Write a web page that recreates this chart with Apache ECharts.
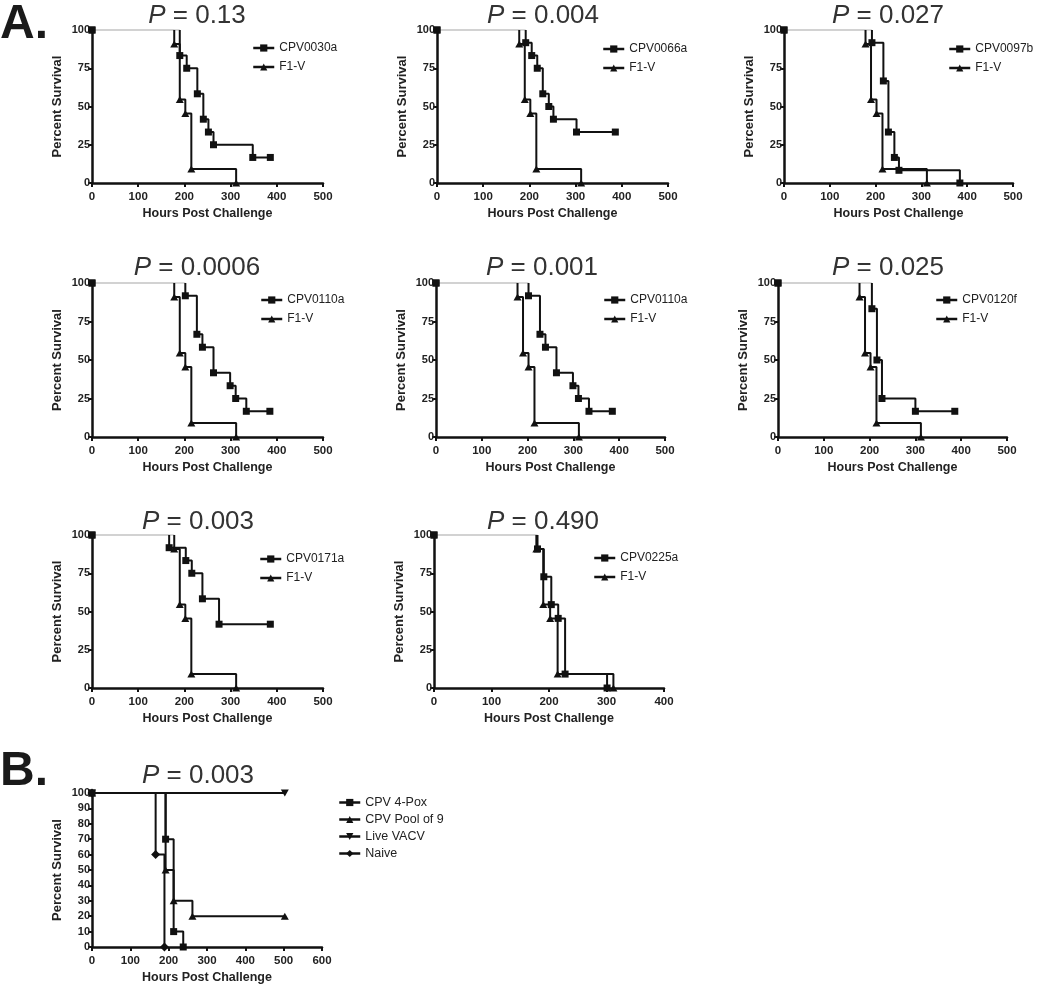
<!DOCTYPE html>
<html>
<head>
<meta charset="utf-8">
<script src="https://cdn.jsdelivr.net/npm/echarts@6/dist/echarts.min.js"></script>
<style>
html,body{margin:0;padding:0;background:#fff;}
#main{width:1050px;height:989px;}
</style>
</head>
<body>
<div id="main"></div>
<script>
// ---- Data: Kaplan-Meier curves (hours post challenge, percent survival) ----
const f1vHours = [0, 178, 190, 202, 215, 312];
const f1vSurvival = [100, 90.9, 54.5, 45.5, 9.1, 0];

const cpv0030aHours = [0, 190, 205, 228, 241, 252, 263, 348, 386];
const cpv0030aSurvival = [100, 83.3, 75, 58.3, 41.7, 33.3, 25, 16.7, 16.7];

const cpv0066aHours = [0, 192, 205, 217, 229, 242, 252, 302, 386];
const cpv0066aSurvival = [100, 91.7, 83.3, 75, 58.3, 50, 41.7, 33.3, 33.3];

const cpv0097bHours = [0, 192, 217, 228, 241, 251, 384];
const cpv0097bSurvival = [100, 91.7, 66.7, 33.3, 16.7, 8.3, 0];

const cpv0110aHours = [0, 202, 227, 239, 263, 299, 311, 334, 385];
const cpv0110aSurvival = [100, 91.7, 66.7, 58.3, 41.7, 33.3, 25, 16.7, 16.7];

const cpv0120fHours = [0, 205, 216, 227, 300, 386];
const cpv0120fSurvival = [100, 83.3, 50, 25, 16.7, 16.7];

const cpv0171aHours = [0, 167, 203, 216, 239, 275, 386];
const cpv0171aSurvival = [100, 91.7, 83.3, 75, 58.3, 41.7, 41.7];

const cpv0225aHours = [0, 180, 191, 204, 216, 228, 301];
const cpv0225aSurvival = [100, 90.9, 72.7, 54.5, 45.5, 9.1, 0];

// Panel B
const pox4Hours = [0, 192, 213, 238];
const pox4Survival = [100, 70, 10, 0];
const pool9Hours = [0, 192, 213, 262, 503];
const pool9Survival = [100, 50, 30, 20, 20];
const liveVacvHours = [0, 503];
const liveVacvSurvival = [100, 100];
const naiveHours = [0, 166, 189];
const naiveSurvival = [100, 60, 0];

// Panel labels
const panelPValues = ['0.13', '0.004', '0.027', '0.0006', '0.001', '0.025', '0.003', '0.490'];
const panelCpvNames = ['CPV0030a', 'CPV0066a', 'CPV0097b', 'CPV0110a', 'CPV0110a', 'CPV0120f', 'CPV0171a', 'CPV0225a'];
const panelCpvHours = [cpv0030aHours, cpv0066aHours, cpv0097bHours, cpv0110aHours, cpv0110aHours, cpv0120fHours, cpv0171aHours, cpv0225aHours];
const panelCpvSurvival = [cpv0030aSurvival, cpv0066aSurvival, cpv0097bSurvival, cpv0110aSurvival, cpv0110aSurvival, cpv0120fSurvival, cpv0171aSurvival, cpv0225aSurvival];
const panelXMax = [500, 500, 500, 500, 500, 500, 500, 400];
const bPValue = '0.003';
const bNames = ['CPV 4-Pox', 'CPV Pool of 9', 'Live VACV', 'Naive'];
const xAxisTitle = 'Hours Post Challenge';
const yAxisTitle = 'Percent Survival';

// ---- Layout (pixels) ----
const gridsA = [
  {left: 92, top: 30, width: 231, height: 153},
  {left: 437, top: 30, width: 231, height: 153},
  {left: 784, top: 30, width: 229, height: 153},
  {left: 92, top: 283, width: 231, height: 154},
  {left: 436, top: 283, width: 229, height: 154},
  {left: 778, top: 283, width: 229, height: 154},
  {left: 92, top: 535, width: 231, height: 153},
  {left: 434, top: 535, width: 230, height: 153}
];
const gridB = {left: 92, top: 793, width: 230, height: 154};
const legendPosA = [
  {left: 252, top: 42}, {left: 602, top: 43}, {left: 948, top: 43},
  {left: 260, top: 294}, {left: 603, top: 294}, {left: 935, top: 294},
  {left: 259, top: 553}, {left: 593, top: 552}
];
const titleCenters = [
  [197, 16], [543, 16], [888, 16],
  [197, 268], [542, 268], [888, 268],
  [198, 522], [543, 522]
];

const FONT = '"Liberation Sans", Arial, Helvetica, sans-serif';
const INK = '#111';
const DOWN_TRI = 'path://M0,0 L10,0 L5,8.66 Z';

function axisCommon(max, interval) {
  return {
    type: 'value', min: 0, max: max, interval: interval,
    splitLine: {show: false},
    axisLine: {show: true, onZero: false, lineStyle: {color: INK, width: 2.5}},
    axisTick: {show: true, length: 4, lineStyle: {color: INK, width: 2}},
    axisLabel: {color: '#222', fontWeight: 'bold', fontSize: 11.5, fontFamily: FONT},
    nameTextStyle: {color: '#222', fontWeight: 'bold', fontSize: 12.5, fontFamily: FONT}
  };
}

const grids = [], xAxes = [], yAxes = [], series = [], legends = [], graphics = [];

function addAxes(g, xMax, yInterval) {
  grids.push(Object.assign({containLabel: false}, g));
  const gi = grids.length - 1;
  const xa = axisCommon(xMax, 100);
  xa.gridIndex = gi;
  xa.name = xAxisTitle; xa.nameLocation = 'middle'; xa.nameGap = 24;
  xa.axisLabel.margin = 8;
  xAxes.push(xa);
  const ya = axisCommon(100, yInterval);
  ya.gridIndex = gi;
  ya.name = yAxisTitle; ya.nameLocation = 'middle'; ya.nameGap = 28; ya.nameRotate = 90;
  ya.nameTextStyle.fontSize = 13;
  ya.axisLabel.margin = 2;
  ya.axisLabel.fontSize = 11;
  yAxes.push(ya);
  return gi;
}

function symbolOf(kind) {
  if (kind === 'square') return {symbol: 'rect', symbolSize: 7};
  if (kind === 'tri') return {symbol: 'triangle', symbolSize: [8, 7]};
  if (kind === 'down') return {symbol: DOWN_TRI, symbolSize: [8, 7]};
  return {symbol: 'diamond', symbolSize: [9, 9]};
}

// KM curve with light-grey lead-in segment at 100% (panel A style)
function kmWithLead(name, hours, surv, kind, gi, z) {
  const sym = symbolOf(kind);
  series.push({
    name: name + ' (start)', type: 'line', xAxisIndex: gi, yAxisIndex: gi,
    data: [[hours[0], surv[0]], {value: [hours[1], surv[0]], symbol: 'none'}],
    symbol: 'rect', symbolSize: 7, clip: false, silent: true,
    lineStyle: {color: '#cfcfcf', width: 1.3}, itemStyle: {color: INK},
    z: 1, animation: false
  });
  const data = [{value: [hours[1], surv[0]], symbol: 'none'}];
  for (let i = 1; i < hours.length; i++) data.push([hours[i], surv[i]]);
  series.push({
    name: name, type: 'line', step: 'end', xAxisIndex: gi, yAxisIndex: gi,
    data: data, symbol: sym.symbol, symbolSize: sym.symbolSize, clip: false,
    lineStyle: {color: INK, width: 2}, itemStyle: {color: INK},
    z: z, animation: false
  });
}

function kmPlain(name, hours, surv, kind, gi, z) {
  const sym = symbolOf(kind);
  const data = hours.map((h, i) => [h, surv[i]]);
  series.push({
    name: name, type: 'line', step: 'end', xAxisIndex: gi, yAxisIndex: gi,
    data: data, symbol: sym.symbol, symbolSize: sym.symbolSize, clip: false,
    lineStyle: {color: INK, width: 2}, itemStyle: {color: INK},
    z: z, animation: false
  });
}

function legendAt(pos, names, gap, fontSize) {
  legends.push({
    left: pos.left, top: pos.top, orient: 'vertical', padding: 0,
    itemWidth: 21, itemHeight: 9, itemGap: gap, selectedMode: false,
    lineStyle: {width: 2.5},
    data: names,
    textStyle: {color: '#222', fontSize: fontSize, fontFamily: FONT, padding: [0, 0, 0, 0]}
  });
}

function titleAt(c, p) {
  graphics.push({
    type: 'text', x: c[0], y: c[1], silent: true,
    style: {
      text: '{i|P} = ' + p,
      align: 'center', verticalAlign: 'middle',
      fill: '#333', font: '26px ' + FONT,
      rich: {i: {fontStyle: 'italic', fontSize: 26, fontFamily: FONT, fill: '#333'}}
    }
  });
}

// Panel A
for (let k = 0; k < panelPValues.length; k++) {
  const gi = addAxes(gridsA[k], panelXMax[k], 25);
  kmWithLead('F1-V', f1vHours, f1vSurvival, 'tri', gi, 3);
  kmWithLead(panelCpvNames[k], panelCpvHours[k], panelCpvSurvival[k], 'square', gi, 4);
  legendAt(legendPosA[k], [panelCpvNames[k], 'F1-V'], 7, 12);
  titleAt(titleCenters[k], panelPValues[k]);
}

// Panel B
const gb = addAxes(gridB, 600, 10);
kmPlain(bNames[2], liveVacvHours, liveVacvSurvival, 'down', gb, 3);
kmPlain(bNames[3], naiveHours, naiveSurvival, 'diamond', gb, 3);
kmPlain(bNames[1], pool9Hours, pool9Survival, 'tri', gb, 3);
kmPlain(bNames[0], pox4Hours, pox4Survival, 'square', gb, 4);
legendAt({left: 338, top: 796}, bNames, 4, 12.5);
titleAt([198, 776], bPValue);

// Panel letters
graphics.push({type: 'text', x: 0, y: 25, silent: true,
  style: {text: 'A.', font: 'bold 48px ' + FONT, fill: '#1a1a1a', align: 'left', verticalAlign: 'middle'}});
graphics.push({type: 'text', x: 0, y: 772, silent: true,
  style: {text: 'B.', font: 'bold 48px ' + FONT, fill: '#1a1a1a', align: 'left', verticalAlign: 'middle'}});

const chart = echarts.init(document.getElementById('main'), null, {renderer: 'canvas'});
chart.setOption({
  backgroundColor: '#fff',
  animation: false,
  textStyle: {fontFamily: FONT},
  grid: grids, xAxis: xAxes, yAxis: yAxes,
  legend: legends, series: series, graphic: graphics
});
</script>
</body>
</html>
